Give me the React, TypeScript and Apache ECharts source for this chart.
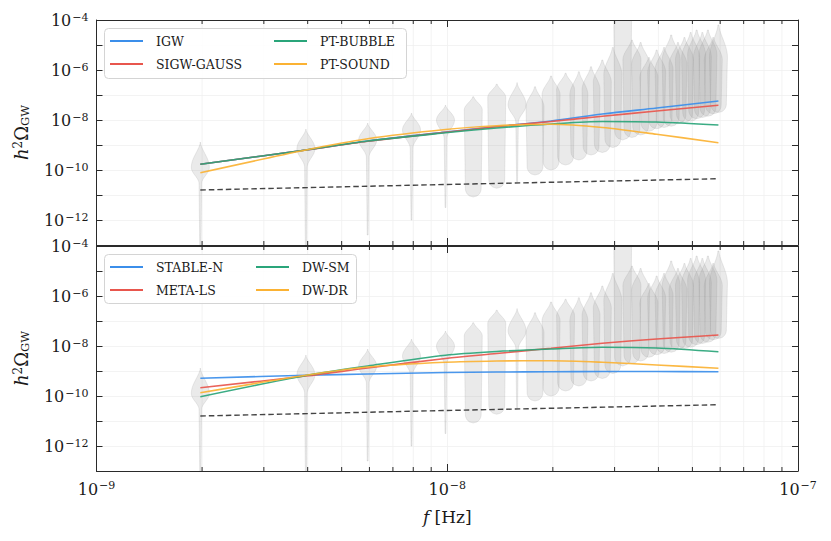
import React, { useEffect, useRef } from 'react';
import * as echarts from 'echarts';

// ---------------- data ----------------
const BASE_F = 1.977e-9; // fundamental frequency 1/T [Hz]

// frequency bins (multiples of BASE_F) at which the model curves were read
const lineN = [1, 2, 3, 5, 7, 10, 14, 20, 30];

// top panel, log10(h^2 Omega)
const igwLog = [-9.77, -9.2, -8.84, -8.48, -8.26, -8.04, -7.76, -7.52, -7.24];
const sigwLog = [-9.77, -9.2, -8.85, -8.49, -8.27, -8.06, -7.85, -7.64, -7.41];
const ptBubbleLog = [-9.77, -9.2, -8.84, -8.51, -8.32, -8.16, -8.06, -8.08, -8.2];
const ptSoundLog = [-10.11, -9.2, -8.75, -8.38, -8.23, -8.17, -8.3, -8.57, -8.91];

// bottom panel, log10(h^2 Omega)
const stableNLog = [-9.29, -9.17, -9.12, -9.06, -9.04, -9.03, -9.02, -9.02, -9.03];
const metaLsLog = [-9.67, -9.2, -8.88, -8.5, -8.3, -8.09, -7.89, -7.72, -7.56];
const dwSmLog = [-10.03, -9.18, -8.8, -8.37, -8.22, -8.12, -8.05, -8.08, -8.23];
const dwDrLog = [-9.87, -9.17, -8.84, -8.65, -8.6, -8.59, -8.65, -8.76, -8.89];

// dashed sensitivity-like curve (same in both panels)
const sensN = [1, 5, 30];
const sensLog = [-10.8, -10.58, -10.35];

// violins: one per frequency bin n = 1..30 (log10 values)
const violinTop = [-8.88, -8.36, -8.12, -7.72, -7.4, -7.07, -6.57, -6.5, -6.67, -6.24, -6.13, -6.07, -5.87, -5.6, -5.1, -2.5, -4.8, -4.9, -5.5, -5.2, -5.1, -4.6, -4.9, -4.7, -4.5, -4.4, -4.5, -4.4, -4.7, -4.2];
const violinMid = [-9.9, -9.15, -8.8, -8.4, -8.0, -7.6, -7.1, -7.4, -7.5, -7.0, -6.8, -7.0, -6.8, -6.5, -6.2, -3.5, -5.6, -5.8, -6.3, -6.1, -6.0, -5.6, -5.8, -5.6, -5.5, -5.4, -5.5, -5.4, -5.6, -5.5];
const violinNeck: (number | null)[] = [-10.55, -9.9, -9.5, -9.15, -8.75, null, null, -8.1, null, null, null, null, null, null, null, null, null, null, null, null, null, null, null, null, null, null, null, null, null, null];
const violinBottom = [-13.6, -13.6, -12.6, -12.0, -11.5, -11.08, -10.73, -10.47, -10.2, -10.0, -9.8, -9.6, -9.4, -9.3, -9.1, -8.8, -8.7, -8.6, -8.45, -8.35, -8.3, -8.25, -8.15, -8.1, -8.05, -7.95, -7.9, -7.85, -7.75, -7.7];

const topNames = ['IGW', 'SIGW-GAUSS', 'PT-BUBBLE', 'PT-SOUND'];
const bottomNames = ['STABLE-N', 'META-LS', 'DW-SM', 'DW-DR'];
const topLogs = [igwLog, sigwLog, ptBubbleLog, ptSoundLog];
const bottomLogs = [stableNLog, metaLsLog, dwSmLog, dwDrLog];

// ---------------- styles ----------------
const COLORS = ['#3b8eea', '#e8564d', '#2aa57a', '#fbb233'];
const FONT = '"DejaVu Serif", "Liberation Serif", serif';
const TXT = '#1a1a1a';
const AX = '#2a2a2a';
const GRIDC = '#f0f0f0';
const X_MIN = 1e-9, X_MAX = 1e-7, Y_MIN = 1e-13, Y_MAX = 1e-4;
const HW = 9;

const tickRich = {
  b: { fontFamily: FONT, fontSize: 16, color: TXT, lineHeight: 17, verticalAlign: 'bottom' },
  e: { fontFamily: FONT, fontSize: 11, color: TXT, lineHeight: 12, padding: [0, 0, 8, 1], verticalAlign: 'top' },
};

function expLabel(v: number, onlyEven: boolean) {
  const e = Math.round(Math.log10(v));
  if (onlyEven && e % 2 !== 0) return '';
  return `{b|10}{e|\u2212${Math.abs(e)}}`;
}

function violinWidth(ly: number, T: number, M: number, N: number | null, B: number) {
  if (ly > T) return 0;
  if (N !== null) {
    if (ly >= M) {
      const u = (T - ly) / (T - M);
      return Math.pow(Math.sin((u * Math.PI) / 2), 1.6);
    }
    if (ly >= N) {
      const u = (M - ly) / (M - N);
      return 0.14 + 0.86 * (0.5 + 0.5 * Math.cos(u * Math.PI));
    }
    const u = (N - ly) / (N - B);
    return 0.14 - 0.09 * u;
  }
  if (ly >= M) {
    const u = (T - ly) / (T - M);
    return 0.06 + 0.94 * Math.pow(0.5 - 0.5 * Math.cos(u * Math.PI), 0.8);
  }
  const E = B + 0.35;
  if (ly >= E) {
    const u = (M - ly) / (M - E);
    return 1 - 0.12 * u;
  }
  const u = (E - ly) / (E - B);
  return 0.88 * Math.sqrt(Math.max(0, 1 - u * u));
}

const violinRender = (params: any, api: any) => {
  const i = params.dataIndex;
  const f = api.value(0);
  const T = violinTop[i], M = violinMid[i], N = violinNeck[i], B = violinBottom[i];
  const steps = 90;
  const left: number[][] = [];
  const right: number[][] = [];
  for (let k = 0; k <= steps; k++) {
    const ly = T - ((T - B) * k) / steps;
    const p = api.coord([f, Math.pow(10, ly)]);
    const w = HW * violinWidth(ly, T, M, N, B);
    left.push([p[0] - w, p[1]]);
    right.push([p[0] + w, p[1]]);
  }
  return {
    type: 'polygon',
    shape: { points: left.concat(right.reverse()) },
    style: { fill: 'rgba(150,150,150,0.2)', stroke: 'rgba(150,150,150,0.28)', lineWidth: 0.7 },
  };
};

const minorF: number[] = [];
[1e-9, 1e-8].forEach((d) => {
  for (let k = 2; k <= 9; k++) minorF.push(k * d);
});

const minorGridRender = (params: any, api: any) => {
  const f = api.value(0);
  const a = api.coord([f, Y_MIN]);
  const b = api.coord([f, Y_MAX]);
  return { type: 'line', shape: { x1: a[0], y1: a[1], x2: b[0], y2: b[1] }, style: { stroke: GRIDC, lineWidth: 0.8 } };
};
const minorTickRender = (params: any, api: any) => {
  const f = api.value(0);
  const a = api.coord([f, Y_MIN]);
  const b = api.coord([f, Y_MAX]);
  return {
    type: 'group',
    children: [
      { type: 'line', shape: { x1: a[0], y1: a[1], x2: a[0], y2: a[1] - 4 }, style: { stroke: AX, lineWidth: 1 } },
      { type: 'line', shape: { x1: b[0], y1: b[1], x2: b[0], y2: b[1] + 4 }, style: { stroke: AX, lineWidth: 1 } },
    ],
  };
};

function buildOption() {
  const grid = [
    { left: 96.5, top: 20, width: 701.5, height: 225 },
    { left: 96.5, top: 246, width: 701.5, height: 225 },
  ];
  const xAxis: any[] = [];
  const yAxis: any[] = [];
  const axLine = { show: true, onZero: false, lineStyle: { color: AX, width: 1 } };
  for (let g = 0; g < 2; g++) {
    const labels = g === 1;
    xAxis.push({
      type: 'log', logBase: 10, gridIndex: g, min: X_MIN, max: X_MAX, position: 'bottom',
      axisLine: axLine,
      axisTick: { show: true, inside: true, length: 7, lineStyle: { color: AX, width: 1 } },
      axisLabel: { show: labels, margin: 9, formatter: (v: number) => expLabel(v, false), rich: tickRich, showMinLabel: true, showMaxLabel: true },
      splitLine: { show: true, lineStyle: { color: GRIDC, width: 0.8 } },
      name: labels ? '{i|f} [Hz]' : '',
      nameLocation: 'middle', nameGap: 37,
      nameTextStyle: { fontFamily: FONT, fontSize: 17, color: TXT, rich: { i: { fontFamily: FONT, fontSize: 17, fontStyle: 'italic', color: TXT } } },
    });
    xAxis.push({
      type: 'log', logBase: 10, gridIndex: g, min: X_MIN, max: X_MAX, position: 'top', z: 10,
      axisLine: axLine,
      axisTick: { show: true, inside: true, length: 7, lineStyle: { color: AX, width: 1 } },
      axisLabel: { show: false }, splitLine: { show: false },
    });
    yAxis.push({
      type: 'log', logBase: 10, gridIndex: g, min: Y_MIN, max: Y_MAX, splitNumber: 9, position: 'left',
      axisLine: axLine,
      axisTick: { show: true, inside: true, length: 6, lineStyle: { color: AX, width: 1 } },
      axisLabel: { margin: 8, formatter: (v: number) => expLabel(v, true), rich: tickRich },
      splitLine: { show: true, lineStyle: { color: GRIDC, width: 0.8 } },
      name: '{i|h}{s|2}{o|\u03A9}{u|GW}', nameLocation: 'middle', nameRotate: 90, nameGap: 51,
      nameTextStyle: {
        fontFamily: FONT, fontSize: 18, color: TXT,
        rich: {
          i: { fontFamily: FONT, fontSize: 18, fontStyle: 'italic', color: TXT, lineHeight: 19, verticalAlign: 'middle' },
          s: { fontFamily: FONT, fontSize: 12, color: TXT, lineHeight: 12, padding: [0, 0, 9, 0], verticalAlign: 'top' },
          o: { fontFamily: FONT, fontSize: 18, color: TXT, lineHeight: 19, verticalAlign: 'middle' },
          u: { fontFamily: FONT, fontSize: 11.5, color: TXT, lineHeight: 12, padding: [9, 0, 0, 0], verticalAlign: 'bottom' },
        },
      },
    });
    yAxis.push({
      type: 'log', logBase: 10, gridIndex: g, min: Y_MIN, max: Y_MAX, splitNumber: 9, position: 'right', z: 10,
      axisLine: axLine,
      axisTick: { show: true, inside: true, length: 6, lineStyle: { color: AX, width: 1 } },
      axisLabel: { show: false }, splitLine: { show: false },
    });
  }

  const series: any[] = [];
  const panels = [
    { names: topNames, logs: topLogs },
    { names: bottomNames, logs: bottomLogs },
  ];
  panels.forEach((p, g) => {
    const xi = g * 2, yi = g * 2;
    series.push({
      type: 'custom', name: 'minor-grid-' + g, xAxisIndex: xi, yAxisIndex: yi, z: 1, silent: true,
      data: minorF.map((f) => [f, Y_MIN]), renderItem: minorGridRender,
    });
    series.push({
      type: 'custom', name: 'violins-' + g, xAxisIndex: xi, yAxisIndex: yi, z: 2, clip: true, silent: true,
      data: violinTop.map((t, i) => [(i + 1) * BASE_F, Math.pow(10, t)]), renderItem: violinRender,
    });
    series.push({
      type: 'line', name: 'sensitivity-' + g, xAxisIndex: xi, yAxisIndex: yi, z: 3,
      data: sensN.map((n, k) => [n * BASE_F, Math.pow(10, sensLog[k])]),
      symbol: 'none', showSymbol: false,
      lineStyle: { color: '#444444', width: 1.4, type: [5.5, 3] },
    });
    p.names.forEach((name, s) => {
      series.push({
        type: 'line', name, xAxisIndex: xi, yAxisIndex: yi, z: 4,
        data: lineN.map((n, k) => [n * BASE_F, Math.pow(10, p.logs[s][k])]),
        symbol: 'none', showSymbol: false, smooth: 0.3,
        lineStyle: { color: COLORS[s], width: 1.6, opacity: 0.92 },
        itemStyle: { color: COLORS[s] },
      });
    });
    series.push({
      type: 'custom', name: 'minor-ticks-' + g, xAxisIndex: xi, yAxisIndex: yi, z: 5, silent: true,
      data: minorF.map((f) => [f, Y_MIN]), renderItem: minorTickRender,
    });
  });

  const legendBase = {
    orient: 'vertical', icon: 'rect', itemWidth: 33, itemHeight: 2, itemGap: 9, padding: 0,
    selectedMode: false, z: 20,
    textStyle: { fontFamily: FONT, fontSize: 12.5, color: TXT, padding: [0, 0, 0, 8], lineHeight: 14 },
  };
  const legend = [
    { ...legendBase, left: 110, top: 34, data: [topNames[0], topNames[1]] },
    { ...legendBase, left: 274, top: 34, data: [topNames[2], topNames[3]] },
    { ...legendBase, left: 110, top: 260, data: [bottomNames[0], bottomNames[1]] },
    { ...legendBase, left: 256, top: 260, data: [bottomNames[2], bottomNames[3]] },
  ];

  const frameStyle = { fill: 'rgba(255,255,255,0.85)', stroke: '#d4d4d4', lineWidth: 1 };
  const graphic = [
    { type: 'rect', z: 15, shape: { x: 104.5, y: 28.5, width: 302, height: 50, r: 4 }, style: frameStyle },
    { type: 'rect', z: 15, shape: { x: 104.5, y: 254.5, width: 252, height: 49, r: 4 }, style: frameStyle },
  ];

  return { animation: false, backgroundColor: '#ffffff', grid, xAxis, yAxis, series, legend, graphic };
}

export default function App() {
  const ref = useRef<HTMLDivElement>(null);
  useEffect(() => {
    document.body.style.margin = '0';
    const chart = echarts.init(ref.current as HTMLDivElement, null, { renderer: 'svg' });
    chart.setOption(buildOption() as any);
    return () => chart.dispose();
  }, []);
  return <div ref={ref} style={{ width: 831, height: 541 }} />;
}
